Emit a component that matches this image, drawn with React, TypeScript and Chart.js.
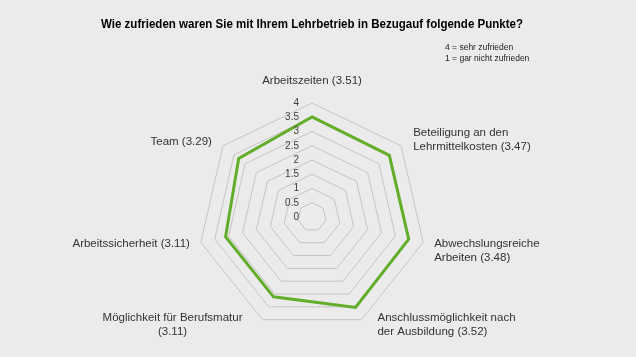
import React, { useEffect, useRef } from "react";
import { Chart, registerables } from "chart.js";

Chart.register(...registerables);

const TITLE = "Wie zufrieden waren Sie mit Ihrem Lehrbetrieb in Bezugauf folgende Punkte?";
const NOTE_LINES = ["4 = sehr zufrieden", "1 = gar nicht zufrieden"];
const CATEGORIES: string[][] = [
  ["Arbeitszeiten (3.51)"],
  ["Beteiligung an den", "Lehrmittelkosten (3.47)"],
  ["Abwechslungsreiche", "Arbeiten (3.48)"],
  ["Anschlussmöglichkeit nach", "der Ausbildung (3.52)"],
  ["Möglichkeit für Berufsmatur", "(3.11)"],
  ["Arbeitssicherheit (3.11)"],
  ["Team (3.29)"],
];
const VALUES = [3.51, 3.47, 3.48, 3.52, 3.11, 3.11, 3.29];
const TICK_VALUES = [0, 0.5, 1, 1.5, 2, 2.5, 3, 3.5, 4];
const TICK_LABELS = ["0", "0.5", "1", "1.5", "2", "2.5", "3", "3.5", "4"];

// label placement relative to outer vertex (style only)
const LABEL_LAYOUT = [
  { align: "center", dx: 0, dy: -22 },
  { align: "left", dx: 12, dy: -6 },
  { align: "left", dx: 11, dy: 8 },
  { align: "left", dx: 16, dy: 5 },
  { align: "center", dx: -90, dy: 5 },
  { align: "right", dx: -11, dy: 1 },
  { align: "right", dx: -11, dy: -4 },
];

const FONT = "'Liberation Sans', Arial, sans-serif";

const textPlugin = {
  id: "customText",
  afterDraw(chart: any) {
    const ctx = chart.ctx;
    const scale = chart.scales.r;
    ctx.save();
    // tick labels
    ctx.font = `10px ${FONT}`;
    ctx.fillStyle = "#404040";
    ctx.textAlign = "right";
    ctx.textBaseline = "middle";
    TICK_VALUES.forEach((v, i) => {
      const d = scale.getDistanceFromCenterForValue(v);
      ctx.fillText(TICK_LABELS[i], scale.xCenter - 13, scale.yCenter - d);
    });
    // point labels
    ctx.font = `11.5px ${FONT}`;
    ctx.fillStyle = "#333333";
    const lh = 14;
    CATEGORIES.forEach((lines, i) => {
      const p = scale.getPointPosition(i, scale.drawingArea);
      const lay = LABEL_LAYOUT[i];
      const cx = p.x + lay.dx;
      const cy = p.y + lay.dy;
      const top = cy - ((lines.length - 1) * lh) / 2;
      ctx.textAlign = lay.align;
      lines.forEach((ln, j) => ctx.fillText(ln, cx, top + j * lh));
    });
    // note
    ctx.font = `8.5px ${FONT}`;
    ctx.textAlign = "left";
    ctx.fillStyle = "#222222";
    NOTE_LINES.forEach((ln, j) => ctx.fillText(ln, 445, 48 + j * 10.5));
    ctx.restore();
  },
};

export default function App() {
  const ref = useRef<HTMLCanvasElement>(null);
  useEffect(() => {
    if (!ref.current) return;
    const chart = new Chart(ref.current, {
      type: "radar",
      data: {
        labels: CATEGORIES,
        datasets: [
          {
            data: VALUES,
            borderColor: "#62ad2a",
            borderWidth: 3,
            pointRadius: 0,
            pointHoverRadius: 0,
            fill: false,
            tension: 0,
          },
        ],
      },
      options: {
        responsive: false,
        animation: false,
        layout: { padding: { top: 0, bottom: 25, left: 101, right: 113 } },
        plugins: {
          legend: { display: false },
          tooltip: { enabled: false },
          title: {
            display: true,
            text: TITLE,
            color: "#000000",
            font: { family: FONT, size: 13, weight: "bold" },
            padding: { top: 17, bottom: 70 },
          },
        },
        scales: {
          r: {
            min: 0,
            max: 4,
            ticks: { stepSize: 0.5, display: false },
            grid: { color: "#c4c4c4", lineWidth: 1 },
            angleLines: { display: false },
            pointLabels: { display: false },
          },
        },
      },
      plugins: [textPlugin],
    });
    return () => chart.destroy();
  }, []);
  return (
    <div style={{ position: "absolute", left: 0, top: 0, width: 636, height: 357, background: "#ebebeb" }}>
      <canvas ref={ref} width={636} height={357} style={{ display: "block" }} />
    </div>
  );
}
